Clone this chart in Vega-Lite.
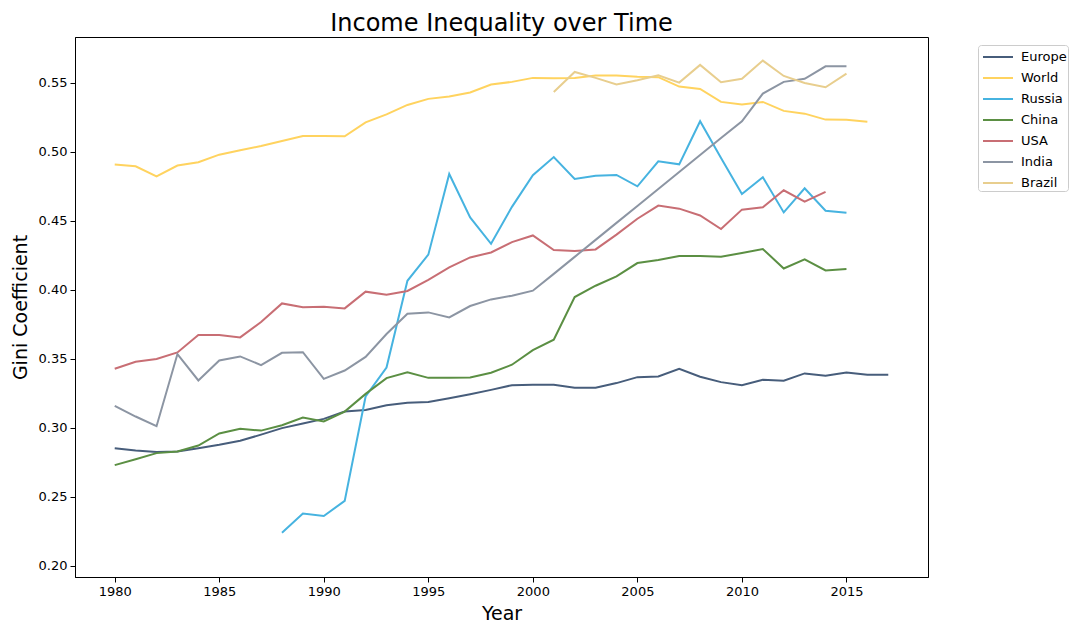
{
  "$schema": "https://vega.github.io/schema/vega-lite/v6.json",
  "width": 853,
  "height": 540,
  "autosize": {"type": "none"},
  "padding": {"left": 75, "top": 37, "right": 157, "bottom": 57},
  "background": "white",
  "title": {"text": "Income Inequality over Time", "font": "DejaVu Sans", "fontSize": 24, "fontWeight": "normal", "color": "black", "anchor": "middle", "baseline": "alphabetic", "frame": "group", "offset": 8, "dy": 26},
  "config": {
    "view": {"stroke": "black", "strokeWidth": 1},
    "axis": {"grid": false, "domainColor": "black", "tickColor": "black", "labelColor": "black", "titleColor": "black", "labelFont": "DejaVu Sans", "titleFont": "DejaVu Sans", "labelFontSize": 13, "titleFontSize": 19, "titleFontWeight": "normal", "tickSize": 5, "labelPadding": 3}
  },
  "data": {"values": [
    {"country":"Europe","year":1980,"gini":0.2853},{"country":"Europe","year":1981,"gini":0.2836},{"country":"Europe","year":1982,"gini":0.2826},{"country":"Europe","year":1983,"gini":0.2829},{"country":"Europe","year":1984,"gini":0.2853},{"country":"Europe","year":1985,"gini":0.2877},{"country":"Europe","year":1986,"gini":0.2906},{"country":"Europe","year":1987,"gini":0.2951},{"country":"Europe","year":1988,"gini":0.2998},{"country":"Europe","year":1989,"gini":0.3031},{"country":"Europe","year":1990,"gini":0.3065},{"country":"Europe","year":1991,"gini":0.3118},{"country":"Europe","year":1992,"gini":0.3130},{"country":"Europe","year":1993,"gini":0.3164},{"country":"Europe","year":1994,"gini":0.3181},{"country":"Europe","year":1995,"gini":0.3188},{"country":"Europe","year":1996,"gini":0.3215},{"country":"Europe","year":1997,"gini":0.3244},{"country":"Europe","year":1998,"gini":0.3275},{"country":"Europe","year":1999,"gini":0.3309},{"country":"Europe","year":2000,"gini":0.3312},{"country":"Europe","year":2001,"gini":0.3312},{"country":"Europe","year":2002,"gini":0.3290},{"country":"Europe","year":2003,"gini":0.3290},{"country":"Europe","year":2004,"gini":0.3324},{"country":"Europe","year":2005,"gini":0.3367},{"country":"Europe","year":2006,"gini":0.3372},{"country":"Europe","year":2007,"gini":0.3428},{"country":"Europe","year":2008,"gini":0.3370},{"country":"Europe","year":2009,"gini":0.3331},{"country":"Europe","year":2010,"gini":0.3309},{"country":"Europe","year":2011,"gini":0.3348},{"country":"Europe","year":2012,"gini":0.3341},{"country":"Europe","year":2013,"gini":0.3394},{"country":"Europe","year":2014,"gini":0.3377},{"country":"Europe","year":2015,"gini":0.3401},{"country":"Europe","year":2016,"gini":0.3384},{"country":"Europe","year":2017,"gini":0.3384},
    {"country":"World","year":1980,"gini":0.4906},{"country":"World","year":1981,"gini":0.4894},{"country":"World","year":1982,"gini":0.4821},{"country":"World","year":1983,"gini":0.4899},{"country":"World","year":1984,"gini":0.4923},{"country":"World","year":1985,"gini":0.4978},{"country":"World","year":1986,"gini":0.5010},{"country":"World","year":1987,"gini":0.5041},{"country":"World","year":1988,"gini":0.5077},{"country":"World","year":1989,"gini":0.5113},{"country":"World","year":1990,"gini":0.5113},{"country":"World","year":1991,"gini":0.5111},{"country":"World","year":1992,"gini":0.5212},{"country":"World","year":1993,"gini":0.5270},{"country":"World","year":1994,"gini":0.5338},{"country":"World","year":1995,"gini":0.5382},{"country":"World","year":1996,"gini":0.5399},{"country":"World","year":1997,"gini":0.5428},{"country":"World","year":1998,"gini":0.5486},{"country":"World","year":1999,"gini":0.5505},{"country":"World","year":2000,"gini":0.5534},{"country":"World","year":2001,"gini":0.5531},{"country":"World","year":2002,"gini":0.5534},{"country":"World","year":2003,"gini":0.5551},{"country":"World","year":2004,"gini":0.5551},{"country":"World","year":2005,"gini":0.5543},{"country":"World","year":2006,"gini":0.5539},{"country":"World","year":2007,"gini":0.5471},{"country":"World","year":2008,"gini":0.5454},{"country":"World","year":2009,"gini":0.5360},{"country":"World","year":2010,"gini":0.5341},{"country":"World","year":2011,"gini":0.5360},{"country":"World","year":2012,"gini":0.5295},{"country":"World","year":2013,"gini":0.5275},{"country":"World","year":2014,"gini":0.5232},{"country":"World","year":2015,"gini":0.5230},{"country":"World","year":2016,"gini":0.5217},
    {"country":"Russia","year":1988,"gini":0.2241},{"country":"Russia","year":1989,"gini":0.2379},{"country":"Russia","year":1990,"gini":0.2362},{"country":"Russia","year":1991,"gini":0.2471},{"country":"Russia","year":1992,"gini":0.3227},{"country":"Russia","year":1993,"gini":0.3437},{"country":"Russia","year":1994,"gini":0.4065},{"country":"Russia","year":1995,"gini":0.4254},{"country":"Russia","year":1996,"gini":0.4838},{"country":"Russia","year":1997,"gini":0.4524},{"country":"Russia","year":1998,"gini":0.4333},{"country":"Russia","year":1999,"gini":0.4600},{"country":"Russia","year":2000,"gini":0.4829},{"country":"Russia","year":2001,"gini":0.4961},{"country":"Russia","year":2002,"gini":0.4802},{"country":"Russia","year":2003,"gini":0.4826},{"country":"Russia","year":2004,"gini":0.4831},{"country":"Russia","year":2005,"gini":0.4749},{"country":"Russia","year":2006,"gini":0.4930},{"country":"Russia","year":2007,"gini":0.4908},{"country":"Russia","year":2008,"gini":0.5220},{"country":"Russia","year":2009,"gini":0.4954},{"country":"Russia","year":2010,"gini":0.4693},{"country":"Russia","year":2011,"gini":0.4814},{"country":"Russia","year":2012,"gini":0.4560},{"country":"Russia","year":2013,"gini":0.4734},{"country":"Russia","year":2014,"gini":0.4572},{"country":"Russia","year":2015,"gini":0.4558},
    {"country":"China","year":1980,"gini":0.2730},{"country":"China","year":1981,"gini":0.2773},{"country":"China","year":1982,"gini":0.2817},{"country":"China","year":1983,"gini":0.2829},{"country":"China","year":1984,"gini":0.2872},{"country":"China","year":1985,"gini":0.2959},{"country":"China","year":1986,"gini":0.2993},{"country":"China","year":1987,"gini":0.2980},{"country":"China","year":1988,"gini":0.3019},{"country":"China","year":1989,"gini":0.3075},{"country":"China","year":1990,"gini":0.3046},{"country":"China","year":1991,"gini":0.3118},{"country":"China","year":1992,"gini":0.3246},{"country":"China","year":1993,"gini":0.3360},{"country":"China","year":1994,"gini":0.3403},{"country":"China","year":1995,"gini":0.3362},{"country":"China","year":1996,"gini":0.3362},{"country":"China","year":1997,"gini":0.3365},{"country":"China","year":1998,"gini":0.3399},{"country":"China","year":1999,"gini":0.3457},{"country":"China","year":2000,"gini":0.3563},{"country":"China","year":2001,"gini":0.3638},{"country":"China","year":2002,"gini":0.3947},{"country":"China","year":2003,"gini":0.4029},{"country":"China","year":2004,"gini":0.4097},{"country":"China","year":2005,"gini":0.4193},{"country":"China","year":2006,"gini":0.4215},{"country":"China","year":2007,"gini":0.4244},{"country":"China","year":2008,"gini":0.4244},{"country":"China","year":2009,"gini":0.4239},{"country":"China","year":2010,"gini":0.4266},{"country":"China","year":2011,"gini":0.4295},{"country":"China","year":2012,"gini":0.4154},{"country":"China","year":2013,"gini":0.4220},{"country":"China","year":2014,"gini":0.4140},{"country":"China","year":2015,"gini":0.4150},
    {"country":"USA","year":1980,"gini":0.3428},{"country":"USA","year":1981,"gini":0.3478},{"country":"USA","year":1982,"gini":0.3498},{"country":"USA","year":1983,"gini":0.3546},{"country":"USA","year":1984,"gini":0.3672},{"country":"USA","year":1985,"gini":0.3672},{"country":"USA","year":1986,"gini":0.3655},{"country":"USA","year":1987,"gini":0.3766},{"country":"USA","year":1988,"gini":0.3901},{"country":"USA","year":1989,"gini":0.3874},{"country":"USA","year":1990,"gini":0.3877},{"country":"USA","year":1991,"gini":0.3865},{"country":"USA","year":1992,"gini":0.3986},{"country":"USA","year":1993,"gini":0.3964},{"country":"USA","year":1994,"gini":0.3991},{"country":"USA","year":1995,"gini":0.4072},{"country":"USA","year":1996,"gini":0.4162},{"country":"USA","year":1997,"gini":0.4234},{"country":"USA","year":1998,"gini":0.4270},{"country":"USA","year":1999,"gini":0.4345},{"country":"USA","year":2000,"gini":0.4393},{"country":"USA","year":2001,"gini":0.4288},{"country":"USA","year":2002,"gini":0.4280},{"country":"USA","year":2003,"gini":0.4292},{"country":"USA","year":2004,"gini":0.4399},{"country":"USA","year":2005,"gini":0.4514},{"country":"USA","year":2006,"gini":0.4609},{"country":"USA","year":2007,"gini":0.4587},{"country":"USA","year":2008,"gini":0.4538},{"country":"USA","year":2009,"gini":0.4440},{"country":"USA","year":2010,"gini":0.4580},{"country":"USA","year":2011,"gini":0.4597},{"country":"USA","year":2012,"gini":0.4720},{"country":"USA","year":2013,"gini":0.4638},{"country":"USA","year":2014,"gini":0.4708},
    {"country":"India","year":1980,"gini":0.3159},{"country":"India","year":1981,"gini":0.3082},{"country":"India","year":1982,"gini":0.3012},{"country":"India","year":1983,"gini":0.3534},{"country":"India","year":1984,"gini":0.3343},{"country":"India","year":1985,"gini":0.3488},{"country":"India","year":1986,"gini":0.3517},{"country":"India","year":1987,"gini":0.3454},{"country":"India","year":1988,"gini":0.3543},{"country":"India","year":1989,"gini":0.3548},{"country":"India","year":1990,"gini":0.3355},{"country":"India","year":1991,"gini":0.3415},{"country":"India","year":1992,"gini":0.3514},{"country":"India","year":1993,"gini":0.3679},{"country":"India","year":1994,"gini":0.3826},{"country":"India","year":1995,"gini":0.3836},{"country":"India","year":1996,"gini":0.3799},{"country":"India","year":1997,"gini":0.3882},{"country":"India","year":1998,"gini":0.3930},{"country":"India","year":1999,"gini":0.3957},{"country":"India","year":2000,"gini":0.3993},{"country":"India","year":2001,"gini":0.4115},{"country":"India","year":2002,"gini":0.4238},{"country":"India","year":2003,"gini":0.4361},{"country":"India","year":2004,"gini":0.4484},{"country":"India","year":2005,"gini":0.4607},{"country":"India","year":2006,"gini":0.4730},{"country":"India","year":2007,"gini":0.4853},{"country":"India","year":2008,"gini":0.4976},{"country":"India","year":2009,"gini":0.5099},{"country":"India","year":2010,"gini":0.5220},{"country":"India","year":2011,"gini":0.5420},{"country":"India","year":2012,"gini":0.5505},{"country":"India","year":2013,"gini":0.5527},{"country":"India","year":2014,"gini":0.5618},{"country":"India","year":2015,"gini":0.5618},
    {"country":"Brazil","year":2001,"gini":0.5432},{"country":"Brazil","year":2002,"gini":0.5577},{"country":"Brazil","year":2003,"gini":0.5534},{"country":"Brazil","year":2004,"gini":0.5486},{"country":"Brazil","year":2005,"gini":0.5517},{"country":"Brazil","year":2006,"gini":0.5553},{"country":"Brazil","year":2007,"gini":0.5500},{"country":"Brazil","year":2008,"gini":0.5628},{"country":"Brazil","year":2009,"gini":0.5502},{"country":"Brazil","year":2010,"gini":0.5527},{"country":"Brazil","year":2011,"gini":0.5659},{"country":"Brazil","year":2012,"gini":0.5548},{"country":"Brazil","year":2013,"gini":0.5497},{"country":"Brazil","year":2014,"gini":0.5466},{"country":"Brazil","year":2015,"gini":0.5565}
  ]},
  "mark": {"type": "line", "strokeWidth": 2, "clip": true},
  "encoding": {
    "x": {"field": "year", "type": "quantitative", "scale": {"domain": [1978.1, 2018.9], "nice": false, "zero": false},
      "axis": {"values": [1980, 1985, 1990, 1995, 2000, 2005, 2010, 2015], "format": "d", "title": "Year", "titlePadding": 6}},
    "y": {"field": "gini", "type": "quantitative", "scale": {"domain": [0.192, 0.583], "nice": false, "zero": false},
      "axis": {"values": [0.2, 0.25, 0.3, 0.35, 0.4, 0.45, 0.5, 0.55], "format": ".2f", "title": "Gini Coefficient", "titlePadding": 8}},
    "color": {"field": "country", "type": "nominal",
      "scale": {"domain": ["Europe", "World", "Russia", "China", "USA", "India", "Brazil"],
                "range": ["#475D7B", "#FFD35F", "#46B3E0", "#5B8F43", "#C86E74", "#8C95A3", "#E8CE8E"]},
      "legend": {"title": null, "orient": "none", "legendX": 903, "legendY": 8, "symbolType": "M-0.7,0H2.3", "symbolSize": 400, "symbolStrokeWidth": 2, "labelFont": "DejaVu Sans", "labelFontSize": 13, "labelColor": "black", "rowPadding": 3, "labelOffset": 20, "padding": 1, "strokeColor": "#cccccc", "fillColor": "white", "cornerRadius": 3}}
  }
}
